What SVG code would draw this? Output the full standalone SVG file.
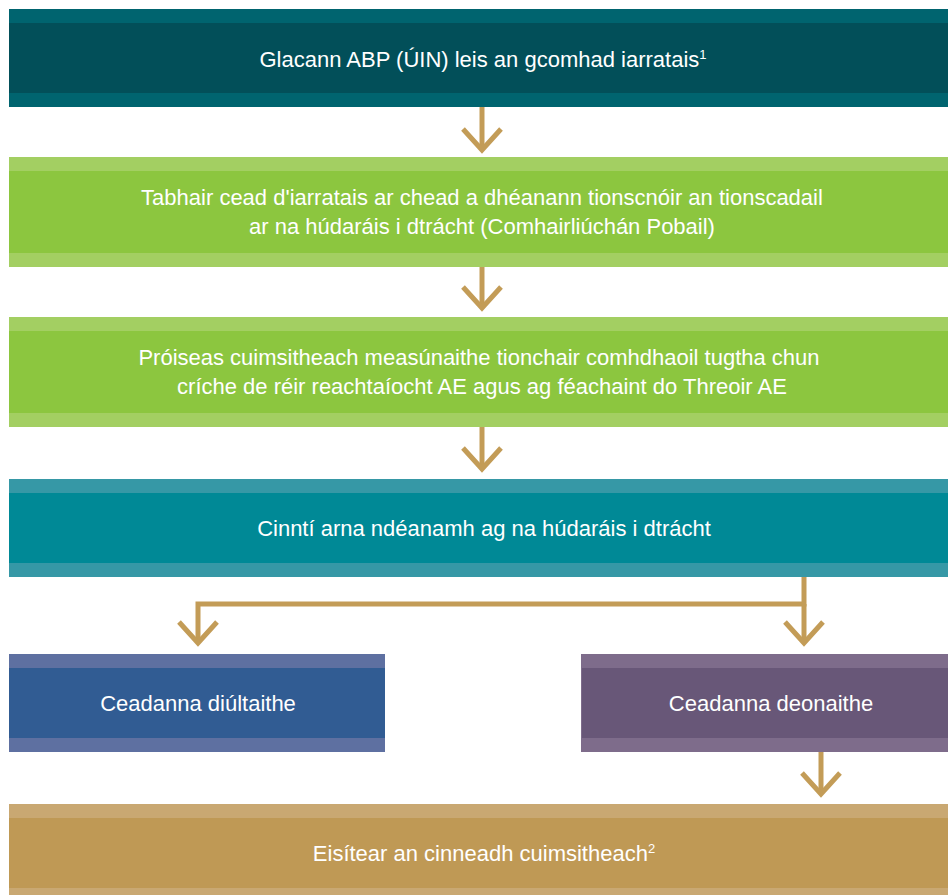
<svg xmlns="http://www.w3.org/2000/svg" width="948" height="895" viewBox="0 0 948 895">
  <style>
    .t { font-family: "Liberation Sans", Arial, Helvetica, sans-serif; font-size: 22px; fill: #ffffff; text-anchor: middle; }
    .sup { font-size: 13px; }
    .arr { fill: none; stroke: #c39c57; stroke-width: 5; stroke-linejoin: miter; stroke-linecap: butt; }
    .b1 { fill: #00646f; } .m1 { fill: #024f59; }
    .b2 { fill: #a3cf62; } .m2 { fill: #8cc63f; }
    .b4 { fill: #3698a6; } .m4 { fill: #008996; }
    .b5 { fill: #5e70a1; } .m5 { fill: #315c93; }
    .b6 { fill: #7e6c8b; } .m6 { fill: #685778; }
    .b7 { fill: #c9a872; } .m7 { fill: #bf9955; }
  </style>
  <rect width="948" height="895" fill="#ffffff"/>

  <g id="connectors">
    <line class="arr" x1="482" y1="107" x2="482" y2="150"/>
    <polyline class="arr" points="463,129 482,150 501,129"/>
    <line class="arr" x1="482" y1="267" x2="482" y2="308"/>
    <polyline class="arr" points="463,287 482,308 501,287"/>
    <line class="arr" x1="482" y1="427" x2="482" y2="469"/>
    <polyline class="arr" points="463,448 482,469 501,448"/>
    <polyline class="arr" points="804,577 804,604 198,604 198,643"/>
    <line class="arr" x1="804" y1="604" x2="804" y2="643"/>
    <polyline class="arr" points="179,622 198,643 217,622"/>
    <polyline class="arr" points="785,622 804,643 823,622"/>
    <line class="arr" x1="821" y1="752" x2="821" y2="794"/>
    <polyline class="arr" points="802,773 821,794 840,773"/>
  </g>

  <g id="node-accepted">
    <rect class="b1" x="9" y="9" width="939" height="98"/>
    <rect class="m1" x="9" y="23" width="939" height="70"/>
    <text class="t" x="483" y="67">Glacann ABP (ÚIN) leis an gcomhad iarratais<tspan class="sup" dy="-8">1</tspan></text>
  </g>

  <g id="node-consultation">
    <rect class="b2" x="9" y="157" width="939" height="110"/>
    <rect class="m2" x="9" y="171" width="939" height="82"/>
    <text class="t" x="482" y="205">Tabhair cead d'iarratais ar chead a dhéanann tionscnóir an tionscadail</text>
    <text class="t" x="482" y="234">ar na húdaráis i dtrácht (Comhairliúchán Pobail)</text>
  </g>

  <g id="node-assessment">
    <rect class="b2" x="9" y="317" width="939" height="110"/>
    <rect class="m2" x="9" y="331" width="939" height="82"/>
    <text class="t" x="479" y="365">Próiseas cuimsitheach measúnaithe tionchair comhdhaoil tugtha chun</text>
    <text class="t" x="482" y="394">críche de réir reachtaíocht AE agus ag féachaint do Threoir AE</text>
  </g>

  <g id="node-decisions">
    <rect class="b4" x="9" y="479" width="939" height="98"/>
    <rect class="m4" x="9" y="493" width="939" height="70"/>
    <text class="t" x="484" y="536">Cinntí arna ndéanamh ag na húdaráis i dtrácht</text>
  </g>

  <g id="node-refused">
    <rect class="b5" x="9" y="654" width="376" height="98"/>
    <rect class="m5" x="9" y="668" width="376" height="70"/>
    <text class="t" x="198" y="711">Ceadanna diúltaithe</text>
  </g>

  <g id="node-granted">
    <rect class="b6" x="581" y="654" width="367" height="98"/>
    <rect class="m6" x="582" y="668" width="366" height="70"/>
    <text class="t" x="771" y="711">Ceadanna deonaithe</text>
  </g>

  <g id="node-issued">
    <rect class="b7" x="9" y="804" width="939" height="91"/>
    <rect class="m7" x="9" y="818" width="939" height="70"/>
    <text class="t" x="484" y="861">Eisítear an cinneadh cuimsitheach<tspan class="sup" dy="-8">2</tspan></text>
  </g>
</svg>
